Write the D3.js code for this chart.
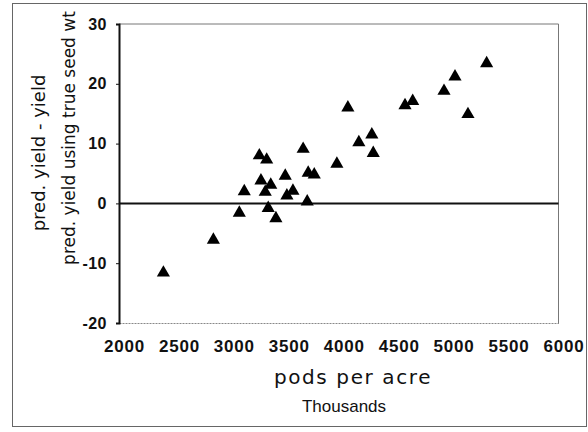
<!DOCTYPE html>
<html>
<head>
<meta charset="utf-8">
<script src="https://cdn.jsdelivr.net/npm/d3@7/dist/d3.min.js"></script>
<style>
  html, body { margin: 0; padding: 0; background: #fff; }
  svg { display: block; }
</style>
</head>
<body>
<svg id="chart" width="588" height="432"></svg>
<script>
// Pods per acre (thousands) for each plot
const podsPerAcre = [
  2404, 2859, 3095, 3140, 3277, 3344, 3292, 3381, 3331, 3358,
  3428, 3513, 3583, 3528, 3676, 3722, 3777, 3713, 3983, 4083,
  4183, 4301, 4314, 4603, 4673, 4958, 5058, 5176, 5346
];
// Predicted yield minus yield predicted with true seed weight
const yieldDiff = [
  -11.6, -6.1, -1.6, 2.0, 8.0, 7.3, 3.8, 3.1, 1.9, -0.8,
  -2.5, 4.6, 2.1, 1.3, 9.1, 5.1, 4.8, 0.3, 6.6, 16.0,
  10.2, 11.5, 8.4, 16.4, 17.1, 18.8, 21.2, 14.9, 23.4
];
const xTicks = [2000, 2500, 3000, 3500, 4000, 4500, 5000, 5500, 6000];
const yTicks = [-20, -10, 0, 10, 20, 30];

const svg = d3.select("#chart");
const plot = { left: 119, right: 558.5, top: 24, bottom: 323 };

const x = d3.scaleLinear().domain([2000, 6000]).range([plot.left, plot.right]);
const y = d3.scaleLinear().domain([-20, 30]).range([plot.bottom, plot.top]);
const fmt = d => String(d);

// outer chart frame
svg.append("rect")
  .attr("x", 12.5).attr("y", 3.5).attr("width", 574).attr("height", 423)
  .attr("fill", "#fff").attr("stroke", "#666").attr("stroke-width", 1);

// plot-area border (top and right)
svg.append("path")
  .attr("d", `M${plot.left},${plot.top}H${plot.right}V${plot.bottom}`)
  .attr("fill", "none").attr("stroke", "#777").attr("stroke-width", 1);

// bottom axis
const xAxis = svg.append("g")
  .attr("transform", `translate(0,${plot.bottom})`)
  .call(d3.axisBottom(x).tickValues(xTicks).tickSize(0).tickPadding(17).tickFormat(fmt));
xAxis.select(".domain").attr("stroke", "#888").attr("stroke-width", 1.2).attr("stroke-dasharray", "2,1");
xAxis.selectAll("text")
  .attr("dx", 5)
  .attr("font-family", "Liberation Sans, Arial, sans-serif")
  .attr("font-weight", "bold").attr("font-size", 17).attr("letter-spacing", 0.8)
  .attr("fill", "#111");

// left axis
const yAxis = svg.append("g")
  .attr("transform", `translate(${plot.left},0)`)
  .call(d3.axisLeft(y).tickValues(yTicks).tickSize(3).tickPadding(9).tickFormat(fmt));
yAxis.select(".domain").attr("stroke", "#111").attr("stroke-width", 2);
yAxis.selectAll("line").attr("stroke", "#111");
yAxis.selectAll("text")
  .attr("font-family", "Liberation Sans, Arial, sans-serif")
  .attr("font-weight", "bold").attr("font-size", 16).attr("letter-spacing", 0.5)
  .attr("fill", "#111");

// zero reference line
svg.append("line")
  .attr("x1", plot.left).attr("x2", plot.right)
  .attr("y1", y(0)).attr("y2", y(0))
  .attr("stroke", "#111").attr("stroke-width", 2);

// triangle markers
const tri = d3.symbol().type(d3.symbolTriangle).size(75);
svg.append("g").selectAll("path")
  .data(podsPerAcre.map((p, i) => [p, yieldDiff[i]]))
  .join("path")
  .attr("d", tri)
  .attr("transform", d => `translate(${x(d[0])},${y(d[1])})`)
  .attr("fill", "#000");

// axis titles
svg.append("text")
  .attr("transform", "translate(45,153) rotate(-90)")
  .attr("text-anchor", "middle")
  .attr("font-family", "DejaVu Sans, sans-serif").attr("font-size", 18)
  .attr("fill", "#111")
  .text("pred. yield - yield");
svg.append("text")
  .attr("transform", "translate(75,138) rotate(-90)")
  .attr("text-anchor", "middle")
  .attr("font-family", "DejaVu Sans, sans-serif").attr("font-size", 17)
  .attr("fill", "#111")
  .text("pred. yield using true seed wt");
svg.append("text")
  .attr("x", 353).attr("y", 384)
  .attr("text-anchor", "middle")
  .attr("font-family", "DejaVu Sans, sans-serif").attr("font-size", 20)
  .attr("letter-spacing", 1.6)
  .attr("fill", "#111")
  .text("pods per acre");
svg.append("text")
  .attr("x", 344).attr("y", 412)
  .attr("text-anchor", "middle")
  .attr("font-family", "Liberation Sans, Arial, sans-serif").attr("font-size", 17)
  .attr("fill", "#111")
  .text("Thousands");
</script>
</body>
</html>
